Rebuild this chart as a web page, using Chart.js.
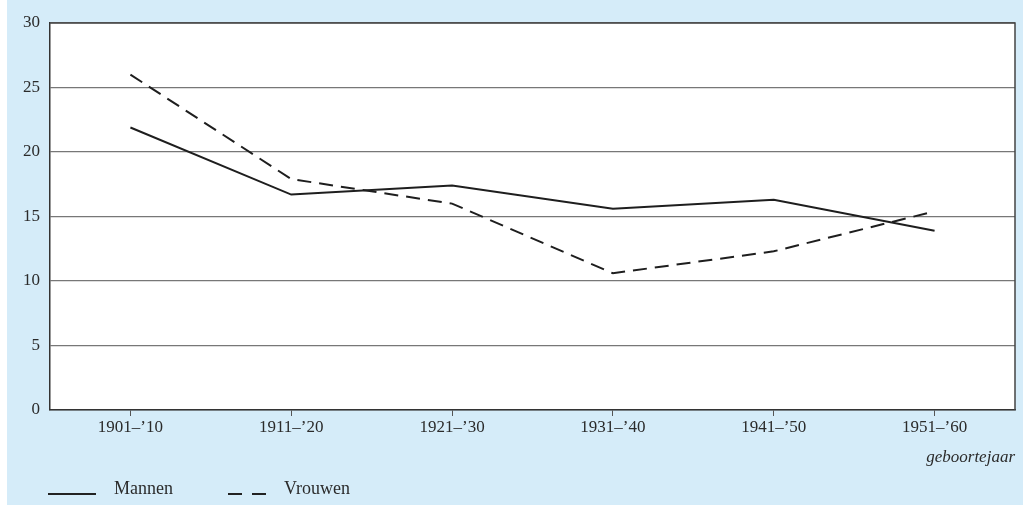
<!DOCTYPE html>
<html>
<head>
<meta charset="utf-8">
<script src="https://cdn.jsdelivr.net/npm/chart.js@4.4.1/dist/chart.umd.min.js"></script>
<style>
  html, body { margin: 0; padding: 0; background: #ffffff; }
  #wrap { width: 1023px; height: 505px; position: relative; }
</style>
</head>
<body>
<div id="wrap"><canvas id="lineChart" width="1023" height="505"></canvas></div>
<script>
// categories (birth cohorts)
const cohorts = ["1901\u2013\u201910", "1911\u2013\u201920", "1921\u2013\u201930", "1931\u2013\u201940", "1941\u2013\u201950", "1951\u2013\u201960"];
// values
const mannen = [21.9, 16.7, 17.4, 15.6, 16.3, 13.9];
const vrouwen = [26.0, 17.9, 16.0, 10.6, 12.3, 15.4];
const yTicks = [0, 5, 10, 15, 20, 25, 30];

const bgBlue = '#d5ecf9';
const ink = '#2b2b2b';
const serif = "'Liberation Serif', 'DejaVu Serif', serif";

// background: blue page with white left strip, white plot area
const backgroundPlugin = {
    id: 'bgPlugin',
    beforeDraw(chart) {
        const c = chart.ctx;
        const a = chart.chartArea;
        c.save();
        c.fillStyle = '#ffffff';
        c.fillRect(0, 0, chart.width, chart.height);
        c.fillStyle = bgBlue;
        c.fillRect(7, 0, chart.width - 7, chart.height);
        c.fillStyle = '#ffffff';
        c.fillRect(a.left, a.top, a.right - a.left, a.bottom - a.top);
        c.restore();
    },
    afterDraw(chart) {
        const c = chart.ctx;
        const a = chart.chartArea;
        c.save();
        // frame top and right
        c.strokeStyle = '#444';
        c.lineWidth = 1.5;
        c.beginPath();
        c.moveTo(a.left, a.top);
        c.lineTo(a.right, a.top);
        c.lineTo(a.right, a.bottom);
        c.stroke();

        // legend below the chart
        const ly = 494;
        const items = [
            { x: 48, w: 48, dash: [], text: chart.data.datasets[0].label },
            { x: 228, w: 38, dash: [14, 10], text: chart.data.datasets[1].label }
        ];
        c.font = "18px " + serif;
        c.fillStyle = ink;
        c.textBaseline = 'middle';
        items.forEach(function(it) {
            c.strokeStyle = '#222';
            c.lineWidth = 2;
            c.setLineDash(it.dash);
            c.beginPath();
            c.moveTo(it.x, ly);
            c.lineTo(it.x + it.w, ly);
            c.stroke();
            c.setLineDash([]);
            c.fillText(it.text, it.x + it.w + 18, ly - 5);
        });
        c.restore();
    }
};

window.onload = function() {
    const ctx = document.getElementById('lineChart').getContext('2d');
    new Chart(ctx, {
        type: 'line',
        data: {
            labels: cohorts,
            datasets: [
                {
                    label: 'Mannen',
                    data: mannen,
                    borderColor: '#1e1e1e',
                    borderWidth: 2,
                    pointRadius: 0,
                    tension: 0,
                    fill: false
                },
                {
                    label: 'Vrouwen',
                    data: vrouwen,
                    borderColor: '#1e1e1e',
                    borderWidth: 2,
                    borderDash: [14, 8],
                    pointRadius: 0,
                    tension: 0,
                    fill: false
                }
            ]
        },
        options: {
            responsive: false,
            animation: false,
            layout: { padding: { top: 23, right: 8, left: 0, bottom: 37 } },
            plugins: {
                legend: { display: false },
                tooltip: { enabled: false }
            },
            scales: {
                x: {
                    offset: true,
                    afterFit: function(scale) { scale.height = 58; },
                    grid: {
                        drawOnChartArea: false,
                        drawTicks: true,
                        tickLength: 6,
                        color: '#555',
                        offset: false
                    },
                    border: { display: true, color: '#333', width: 1.5 },
                    ticks: {
                        color: ink,
                        font: { family: serif, size: 17 },
                        padding: 1,
                        maxRotation: 0
                    },
                    title: {
                        display: true,
                        text: 'geboortejaar',
                        align: 'end',
                        color: ink,
                        font: { family: serif, size: 17, style: 'italic' },
                        padding: { top: 2, bottom: 0 }
                    }
                },
                y: {
                    min: 0,
                    max: 30,
                    afterFit: function(scale) { scale.width = 50; },
                    afterBuildTicks: function(scale) {
                        scale.ticks = yTicks.map(function(v) { return { value: v }; });
                    },
                    grid: {
                        drawTicks: false,
                        color: '#777',
                        lineWidth: 1.2
                    },
                    border: { display: true, color: '#333', width: 1.5 },
                    ticks: {
                        color: ink,
                        font: { family: serif, size: 17 },
                        padding: 10
                    }
                }
            }
        },
        plugins: [backgroundPlugin]
    });
};
</script>
</body>
</html>
